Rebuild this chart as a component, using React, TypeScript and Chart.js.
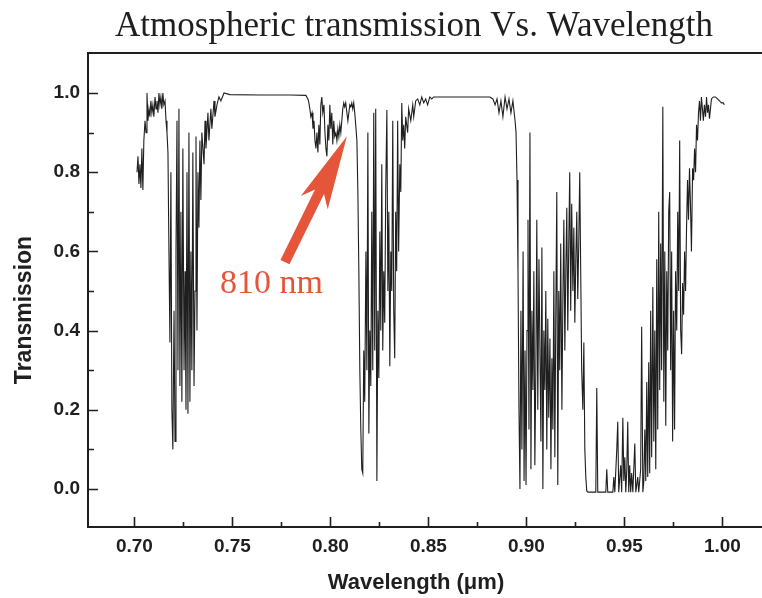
import { useEffect, useRef } from "react";
import { Chart, registerables } from "chart.js";

Chart.register(...registerables);

// Near-IR atmospheric transmission spectrum, wavelength in µm vs. transmission.
const band720: number[][] = [
  [0.7013, 0.8], [0.7018, 0.84], [0.7023, 0.77], [0.7028, 0.82], [0.7033, 0.76], [0.7038, 0.86],
  [0.7043, 0.755], [0.7048, 0.88], [0.7054, 0.93], [0.7059, 0.9], [0.7064, 1.0], [0.7069, 0.93],
  [0.7074, 0.96], [0.7079, 0.94], [0.7084, 0.98], [0.7089, 0.95], [0.7094, 0.97], [0.7099, 0.94],
  [0.7105, 0.99], [0.711, 0.96], [0.7115, 0.98], [0.712, 0.95], [0.7125, 1.0], [0.713, 0.97],
  [0.7135, 0.99], [0.714, 0.96], [0.7145, 1.0], [0.715, 0.97], [0.7156, 0.98], [0.7161, 0.93],
  [0.7166, 0.9], [0.7171, 0.85], [0.7176, 0.6], [0.7181, 0.37], [0.7186, 0.8], [0.7191, 0.2],
  [0.7196, 0.1], [0.7202, 0.45], [0.7207, 0.12], [0.7212, 0.6], [0.7217, 0.93], [0.7222, 0.3],
  [0.7227, 0.96], [0.7232, 0.26], [0.7237, 0.7], [0.7242, 0.22], [0.7247, 0.86], [0.7253, 0.3],
  [0.7258, 0.55], [0.7263, 0.2], [0.7268, 0.8], [0.7273, 0.19], [0.7278, 0.9], [0.7283, 0.22],
  [0.7288, 0.6], [0.7293, 0.3], [0.7298, 0.85], [0.7304, 0.26], [0.7309, 0.5], [0.7314, 0.89],
  [0.7319, 0.4], [0.7324, 0.8], [0.7329, 0.66], [0.7334, 0.88], [0.7339, 0.73], [0.7344, 0.9],
  [0.7355, 0.82], [0.736, 0.93], [0.7365, 0.86], [0.7375, 0.95], [0.738, 0.88], [0.739, 0.96],
  [0.7395, 0.91], [0.7406, 0.98], [0.7411, 0.94], [0.7421, 0.97], [0.7431, 0.99], [0.7441, 0.98],
  [0.7457, 1.0],
];

const window760: number[][] = [
  [0.7487, 0.996], [0.764, 0.995], [0.7794, 0.995], [0.7875, 0.994],
];

const band810: number[][] = [
  [0.7885, 0.985], [0.789, 0.975], [0.7895, 0.96], [0.79, 0.94], [0.7906, 0.95], [0.7911, 0.91],
  [0.7916, 0.93], [0.7921, 0.88], [0.7926, 0.86], [0.7931, 0.9], [0.7936, 0.85], [0.7941, 0.92],
  [0.7946, 0.87], [0.7951, 0.97], [0.7956, 0.99], [0.7961, 0.95], [0.7967, 0.97], [0.7972, 0.9],
  [0.7977, 0.86], [0.7982, 0.84], [0.7987, 0.92], [0.7992, 0.88], [0.7997, 0.97], [0.8002, 0.91],
  [0.8007, 0.95], [0.8012, 0.87], [0.8017, 0.93], [0.8022, 0.89], [0.8028, 0.9], [0.8033, 0.88],
  [0.8038, 0.91], [0.8043, 0.89], [0.8048, 0.92], [0.8053, 0.9], [0.8058, 0.93], [0.8063, 0.96],
  [0.8068, 0.975], [0.8073, 0.965], [0.8078, 0.975], [0.8084, 0.95], [0.8089, 0.93], [0.8094, 0.95],
  [0.8099, 0.97], [0.8104, 0.965], [0.8109, 0.975], [0.8114, 0.96], [0.8119, 0.975], [0.8124, 0.95],
  [0.8129, 0.92], [0.8135, 0.88],
];

const band820: number[][] = [
  [0.814, 0.75], [0.8145, 0.55], [0.815, 0.3], [0.8155, 0.15], [0.816, 0.05], [0.8165, 0.04],
  [0.817, 0.35], [0.8175, 0.22], [0.8181, 0.6], [0.8186, 0.3], [0.8191, 0.9], [0.8196, 0.14],
  [0.8201, 0.4], [0.8206, 0.26], [0.8211, 0.7], [0.8216, 0.3], [0.8221, 0.95], [0.8226, 0.35],
  [0.8231, 0.96], [0.8237, 0.02], [0.8242, 0.45], [0.8247, 0.28], [0.8252, 0.65], [0.8257, 0.4],
  [0.8262, 0.82], [0.8267, 0.35], [0.8272, 0.55], [0.8277, 0.42], [0.8282, 0.75], [0.8288, 0.957],
  [0.8293, 0.5], [0.8298, 0.7], [0.8303, 0.31], [0.8308, 0.6], [0.8313, 0.5], [0.8318, 0.93],
  [0.8323, 0.45], [0.8328, 0.33], [0.8333, 0.7], [0.8338, 0.55], [0.8343, 0.93], [0.8348, 0.6],
  [0.8354, 0.82], [0.8359, 0.75], [0.8364, 0.975], [0.8369, 0.88], [0.8374, 0.92], [0.8379, 0.86],
  [0.8384, 0.94], [0.8394, 0.9], [0.8399, 0.96], [0.841, 0.93], [0.842, 0.97], [0.8425, 0.94],
  [0.8435, 0.98], [0.8445, 0.985], [0.8456, 0.97], [0.8466, 0.99], [0.8476, 0.975], [0.8486, 0.985],
  [0.8496, 0.97], [0.8507, 0.99], [0.8517, 0.985], [0.8527, 0.99], [0.8542, 0.99],
];

const window870: number[][] = [
  [0.8686, 0.99], [0.8814, 0.99], [0.8829, 0.985], [0.884, 0.97], [0.885, 0.985], [0.886, 0.95],
  [0.887, 0.98], [0.888, 0.94], [0.8891, 0.99], [0.8901, 0.96], [0.8911, 0.985], [0.8921, 0.95],
  [0.8931, 0.98], [0.8942, 0.93], [0.8947, 0.9], [0.8952, 0.78],
];

const band910: number[][] = [
  [0.8957, 0.55], [0.8962, 0.2], [0.8967, 0.0], [0.8972, 0.45], [0.8977, 0.1], [0.8983, 0.6],
  [0.8988, 0.02], [0.8993, 0.35], [0.8998, 0.01], [0.9003, 0.4], [0.9008, 0.68], [0.9013, 0.15],
  [0.9018, 0.9], [0.9023, 0.05], [0.9028, 0.45], [0.9033, 0.25], [0.9038, 0.55], [0.9043, 0.06],
  [0.9048, 0.3], [0.9053, 0.68], [0.9058, 0.2], [0.9064, 0.58], [0.9069, 0.35], [0.9074, 0.12],
  [0.9079, 0.61], [0.9084, 0.0], [0.9089, 0.4], [0.9094, 0.25], [0.9099, 0.5], [0.9104, 0.1],
  [0.9109, 0.43], [0.9114, 0.18], [0.912, 0.38], [0.9125, 0.05], [0.913, 0.33], [0.9135, 0.15],
  [0.914, 0.55], [0.9145, 0.08], [0.915, 0.45], [0.9155, 0.75], [0.916, 0.01], [0.9165, 0.5],
  [0.917, 0.3], [0.9175, 0.62], [0.9181, 0.2], [0.9186, 0.48], [0.9191, 0.68], [0.9196, 0.35],
  [0.9201, 0.55], [0.9206, 0.71], [0.9211, 0.4], [0.9216, 0.62], [0.9221, 0.8], [0.9226, 0.45],
  [0.9231, 0.72], [0.9237, 0.5], [0.9242, 0.66], [0.9247, 0.42], [0.9252, 0.58], [0.9257, 0.7],
  [0.9262, 0.48], [0.9267, 0.62], [0.9272, 0.8], [0.9277, 0.55], [0.9282, 0.3], [0.9288, 0.2],
  [0.9293, 0.37], [0.9298, 0.1], [0.9303, 0.03], [0.9308, -0.005],
];

const band940: number[][] = [
  [0.9314, -0.008], [0.9354, -0.008], [0.9359, 0.255], [0.9364, -0.008], [0.9405, -0.008],
  [0.941, 0.05], [0.9415, -0.008], [0.9441, -0.008], [0.9446, 0.03], [0.9451, -0.008],
  [0.9461, 0.1], [0.9466, 0.17], [0.9471, -0.008], [0.9481, 0.06], [0.9486, -0.008],
  [0.9492, 0.18], [0.9497, 0.02], [0.9502, 0.08], [0.9507, -0.008], [0.9512, 0.05],
  [0.9517, 0.17], [0.9522, -0.008], [0.9527, 0.06], [0.9532, -0.008], [0.9537, 0.04],
  [0.9543, -0.008], [0.9553, 0.115], [0.9558, -0.008], [0.9568, 0.03], [0.9573, -0.008],
  [0.9583, 0.05], [0.9588, 0.41], [0.9594, -0.008], [0.9599, 0.02], [0.9604, 0.15],
  [0.9609, 0.02], [0.9614, 0.27], [0.9619, 0.03], [0.9624, 0.32], [0.9629, 0.04],
  [0.9634, 0.45], [0.9639, 0.08], [0.9645, 0.51], [0.965, 0.12], [0.9655, 0.4],
];

const edge980: number[][] = [
  [0.966, 0.05], [0.9665, 0.58], [0.967, 0.15], [0.9675, 0.7], [0.968, 0.25], [0.9685, 0.62],
  [0.969, 0.3], [0.9696, 0.965], [0.9701, 0.22], [0.9706, 0.6], [0.9711, 0.16], [0.9716, 0.55],
  [0.9721, 0.35], [0.9726, 0.7], [0.9731, 0.75], [0.9736, 0.3], [0.9741, 0.6], [0.9746, 0.12],
  [0.9751, 0.45], [0.9756, 0.15], [0.9761, 0.55], [0.9767, 0.4], [0.9772, 0.7], [0.9777, 0.5],
  [0.9782, 0.88], [0.9787, 0.4], [0.9792, 0.34], [0.9797, 0.52], [0.9802, 0.44], [0.9807, 0.6],
  [0.9812, 0.5], [0.9817, 0.66], [0.9822, 0.78], [0.9827, 0.68], [0.9832, 0.81], [0.9837, 0.72],
  [0.9842, 0.6], [0.9848, 0.81], [0.9853, 0.78], [0.9858, 0.86], [0.9863, 0.8], [0.9868, 0.92],
  [0.9873, 0.88], [0.9878, 0.95], [0.9883, 0.98], [0.9888, 0.93], [0.9893, 0.99], [0.9898, 0.96],
  [0.9903, 0.93], [0.9908, 0.97], [0.9914, 0.94], [0.9919, 0.99], [0.9924, 0.95], [0.9929, 0.97],
  [0.9934, 0.935], [0.9939, 0.96], [0.9944, 0.985], [0.9954, 0.99], [0.9964, 0.99], [0.9975, 0.985],
  [0.9985, 0.98], [0.9995, 0.975], [1.0005, 0.975], [1.001, 0.97],
];

const xMajorTicks = [0.7, 0.75, 0.8, 0.85, 0.9, 0.95, 1.0];
const xMinorTicks = [0.725, 0.775, 0.825, 0.875, 0.925, 0.975];
const yMajorTicks = [0.0, 0.2, 0.4, 0.6, 0.8, 1.0];
const yMinorTicks = [0.1, 0.3, 0.5, 0.7, 0.9];

const X_MIN = 0.6763;
const X_MAX = 1.0202;
const Y_MIN = -0.096;
const Y_MAX = 1.101;

const chartTitle = "Atmospheric transmission Vs. Wavelength";
const xTitle = "Wavelength (\u03bcm)";
const yTitle = "Transmission";

// 810 nm callout: arrow tail, arrow tip and label anchor in data units
const calloutText = "810 nm";
const calloutTail = [0.7768, 0.573];
const calloutTip = [0.8084, 0.891];
const calloutLabel = [0.7436, 0.495];

const INK = "#1f1f1f";
const ACCENT = "#e4553a";
const SANS = "'Liberation Sans', Arial, sans-serif";
const SERIF = "'Liberation Serif', 'Times New Roman', serif";

const spectrum = [
  ...band720, ...window760, ...band810, ...band820,
  ...window870, ...band910, ...band940, ...edge980,
];

const decorations = {
  id: "decorations",
  afterDraw(chart: any) {
    const { ctx, chartArea: a, scales } = chart;
    const xs = scales.x;
    const ys = scales.y;
    ctx.save();

    // frame: left, top and bottom edges
    ctx.strokeStyle = INK;
    ctx.lineWidth = 2;
    ctx.beginPath();
    ctx.moveTo(a.right, a.top);
    ctx.lineTo(a.left, a.top);
    ctx.lineTo(a.left, a.bottom);
    ctx.lineTo(a.right, a.bottom);
    ctx.stroke();

    // inward tick marks
    ctx.lineWidth = 1.6;
    ctx.beginPath();
    for (const v of xMajorTicks) {
      const px = Math.round(xs.getPixelForValue(v)) + 0.5;
      ctx.moveTo(px, a.bottom);
      ctx.lineTo(px, a.bottom - 10);
    }
    for (const v of xMinorTicks) {
      const px = Math.round(xs.getPixelForValue(v)) + 0.5;
      ctx.moveTo(px, a.bottom);
      ctx.lineTo(px, a.bottom - 5);
    }
    for (const v of yMajorTicks) {
      const py = Math.round(ys.getPixelForValue(v)) + 0.5;
      ctx.moveTo(a.left, py);
      ctx.lineTo(a.left + 10, py);
    }
    for (const v of yMinorTicks) {
      const py = Math.round(ys.getPixelForValue(v)) + 0.5;
      ctx.moveTo(a.left, py);
      ctx.lineTo(a.left + 6, py);
    }
    ctx.stroke();

    // chart title
    ctx.fillStyle = INK;
    ctx.font = `35px ${SERIF}`;
    ctx.textAlign = "center";
    ctx.textBaseline = "alphabetic";
    ctx.fillText(chartTitle, 414, 36);

    // axis titles
    ctx.font = `bold 22px ${SANS}`;
    ctx.textBaseline = "middle";
    ctx.fillText(xTitle, 416, 583);
    ctx.save();
    ctx.translate(25, 310);
    ctx.rotate(-Math.PI / 2);
    ctx.font = `bold 23px ${SANS}`;
    ctx.fillText(yTitle, 0, 0);
    ctx.restore();

    // callout arrow
    const tx = xs.getPixelForValue(calloutTail[0]);
    const ty = ys.getPixelForValue(calloutTail[1]);
    const hx = xs.getPixelForValue(calloutTip[0]);
    const hy = ys.getPixelForValue(calloutTip[1]);
    const len = Math.hypot(hx - tx, hy - ty);
    const ux = (hx - tx) / len;
    const uy = (hy - ty) / len;
    const nx = -uy;
    const ny = ux;
    const shaftHalf = 5;
    const headHalf = 15;
    const headLen = 74;
    const notch = 62;
    ctx.fillStyle = ACCENT;
    ctx.beginPath();
    ctx.moveTo(tx + nx * shaftHalf, ty + ny * shaftHalf);
    ctx.lineTo(hx - ux * notch + nx * shaftHalf, hy - uy * notch + ny * shaftHalf);
    ctx.lineTo(hx - ux * headLen + nx * headHalf, hy - uy * headLen + ny * headHalf);
    ctx.lineTo(hx, hy);
    ctx.lineTo(hx - ux * headLen - nx * headHalf, hy - uy * headLen - ny * headHalf);
    ctx.lineTo(hx - ux * notch - nx * shaftHalf, hy - uy * notch - ny * shaftHalf);
    ctx.lineTo(tx - nx * shaftHalf, ty - ny * shaftHalf);
    ctx.closePath();
    ctx.fill();

    ctx.font = `34px ${SERIF}`;
    ctx.textAlign = "left";
    ctx.textBaseline = "alphabetic";
    ctx.fillText(
      calloutText,
      xs.getPixelForValue(calloutLabel[0]),
      ys.getPixelForValue(calloutLabel[1])
    );

    ctx.restore();
  },
};

export default function App() {
  const canvasRef = useRef<HTMLCanvasElement | null>(null);

  useEffect(() => {
    const canvas = canvasRef.current;
    if (!canvas) return;
    const tickFont = { family: SANS, size: 19, weight: "bold" as const };
    const chart = new Chart(canvas, {
      type: "line",
      data: {
        datasets: [
          {
            data: spectrum.map(([x, y]) => ({ x, y })),
            borderColor: INK,
            borderWidth: 1.1,
            pointRadius: 0,
            tension: 0,
            fill: false,
          },
        ],
      },
      options: {
        animation: false,
        responsive: false,
        maintainAspectRatio: false,
        devicePixelRatio: 1,
        events: [],
        layout: { padding: { top: 53, right: 0, bottom: 0, left: 0 } },
        plugins: {
          legend: { display: false },
          title: { display: false },
          tooltip: { enabled: false },
        },
        scales: {
          x: {
            type: "linear",
            min: X_MIN,
            max: X_MAX,
            grid: { display: false, drawTicks: false },
            border: { display: false },
            afterBuildTicks: (s: any) => {
              s.ticks = xMajorTicks.map((value) => ({ value }));
            },
            afterFit: (s: any) => {
              s.height = 71;
            },
            ticks: {
              padding: 8,
              color: INK,
              font: tickFont,
              maxRotation: 0,
              autoSkip: false,
              callback: (v: any) => Number(v).toFixed(2),
            },
          },
          y: {
            type: "linear",
            min: Y_MIN,
            max: Y_MAX,
            grid: { display: false, drawTicks: false },
            border: { display: false },
            afterBuildTicks: (s: any) => {
              s.ticks = yMajorTicks.map((value) => ({ value }));
            },
            afterFit: (s: any) => {
              s.width = 88;
            },
            ticks: {
              padding: 8,
              color: INK,
              font: tickFont,
              autoSkip: false,
              callback: (v: any) => Number(v).toFixed(1),
            },
          },
        },
      },
      plugins: [decorations],
    });
    return () => chart.destroy();
  }, []);

  return (
    <div
      style={{
        position: "fixed",
        left: 0,
        top: 0,
        width: 762,
        height: 598,
        background: "#fff",
      }}
    >
      <canvas
        ref={canvasRef}
        width={762}
        height={598}
        style={{ width: 762, height: 598, display: "block" }}
      />
    </div>
  );
}
